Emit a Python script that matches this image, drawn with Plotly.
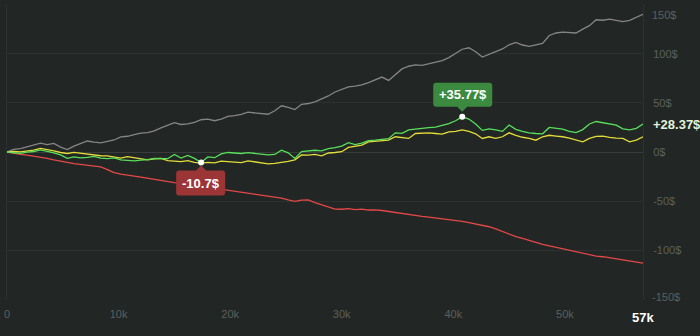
import plotly.graph_objects as go

# Trade count axis (0 .. 57k, one sample every 600 trades)
trades = list(range(0, 57001, 600))

# Cumulative P&L per strategy, in $
pnl_gray = [
    0, 2.7, 3.5, 5.5, 7.5, 9.0, 7.6, 8.8, 5.0, 2.5,
    6.0, 8.5, 11.2, 10.0, 9.3, 10.8, 12.2, 15.3, 16.0, 17.6,
    19.2, 19.8, 21.5, 24.5, 27.0, 29.8, 28.0, 28.6, 30.2, 32.8,
    33.5, 31.8, 33.5, 36.2, 37.0, 38.2, 40.5, 40.0, 39.5, 38.4,
    42.0, 47.0, 45.5, 43.2, 48.5, 49.3, 51.0, 53.6, 57.0, 61.0,
    63.5, 66.2, 67.0, 68.3, 70.5, 73.5, 76.2, 72.8, 79.0, 84.5,
    87.2, 88.5, 88.0, 89.5, 90.8, 93.0, 96.0, 100.5, 104.5, 106.0,
    102.0, 96.5, 99.0, 101.5, 104.8, 109.0, 111.5, 108.8, 107.5, 109.0,
    110.5, 118.5, 121.0, 121.8, 121.2, 121.0, 125.0, 128.5, 134.5, 134.0,
    135.2, 134.0, 132.5, 133.8, 136.5, 140.0,
]
pnl_green = [
    0, -0.5, -1.3, -0.2, 0.5, 2.2, 1.0, -0.8, -3.0, -6.4,
    -5.0, -6.0, -5.5, -4.5, -6.2, -6.8, -6.0, -8.0, -8.5, -9.0,
    -8.2, -7.8, -6.5, -7.0, -6.8, -2.5, -6.2, -3.5, -6.5, -10.7,
    -5.0, -5.8, -2.0, -0.5, -1.0, -1.5, -0.6, -1.3, -2.2, -3.0,
    -2.5, 1.8, -0.8, -6.5, 0.5, 1.5, 1.8, 1.2, 3.5, 4.5,
    6.0, 9.5, 7.5, 9.0, 11.5, 12.0, 13.0, 13.6, 19.5, 19.0,
    22.5, 23.5, 24.0, 24.8, 25.3, 27.0, 28.8, 31.8, 35.77, 33.5,
    28.5, 22.0, 23.5, 22.5, 21.0, 27.5, 23.0, 21.0, 19.5, 18.8,
    18.5, 25.0, 24.0, 23.3, 21.0, 19.8, 22.8, 28.5, 31.0, 30.0,
    28.8, 27.3, 23.5, 22.5, 24.0, 28.37,
]
pnl_yellow = [
    0, 0.5, 0.2, 1.2, 1.8, 3.6, 2.5, 1.2, -0.5, -1.5,
    -0.4, -1.2, -2.0, -3.2, -3.8, -4.0, -5.0, -6.2, -4.8, -6.0,
    -7.2, -8.0, -7.0, -6.4, -8.8, -9.5, -9.8, -8.8, -10.5, -11.4,
    -10.5, -11.0, -9.2, -9.8, -10.2, -10.8, -9.0, -9.8, -10.8, -12.0,
    -11.5, -10.8, -9.5, -8.0, -3.0, -3.2, -2.5, -4.0, -1.0, -0.5,
    0.3, 4.7, 5.5, 7.0, 10.2, 11.0, 11.4, 12.0, 15.5, 14.5,
    13.8, 18.8, 19.2, 19.5, 18.8, 18.2, 20.5, 21.0, 22.5, 21.0,
    18.5, 13.8, 15.5, 13.8, 15.5, 19.5, 17.0, 15.0, 13.8, 12.0,
    15.5, 17.0, 16.2, 15.5, 14.0, 12.0, 10.4, 13.8, 15.8, 16.2,
    14.8, 14.2, 13.8, 10.4, 12.0, 15.5,
]
pnl_red = [
    0, -1.5, -2.5, -3.2, -4.2, -5.4, -6.5, -8.0, -9.6, -10.5,
    -11.8, -12.8, -13.5, -14.2, -15.2, -18.0, -21.0, -22.5, -23.8, -24.6,
    -25.5, -26.8, -27.8, -29.2, -30.2, -31.2, -32.0, -33.0, -33.8, -34.8,
    -35.6, -36.5, -37.5, -38.4, -39.2, -40.5, -41.6, -42.5, -43.5, -44.8,
    -45.8, -46.8, -48.8, -50.2, -49.0, -48.8, -51.5, -53.5, -55.8, -58.0,
    -58.2, -57.6, -58.6, -58.0, -59.0, -58.8, -59.5, -60.5, -62.0, -63.2,
    -63.8, -64.5, -65.5, -66.2, -67.0, -68.2, -69.0, -69.8, -70.6, -71.8,
    -73.2, -74.5, -76.0, -78.2, -81.0, -83.8, -86.0, -87.8, -89.5, -91.8,
    -94.0, -95.5, -97.2, -98.8, -100.2, -101.8, -103.5, -104.8, -105.8, -106.5,
    -107.5, -109.0, -109.8, -110.8, -111.6, -113.0,
]

x_tick_vals = [0, 10000, 20000, 30000, 40000, 50000]
x_tick_text = ["0", "10k", "20k", "30k", "40k", "50k"]
y_tick_vals = [-150, -100, -50, 0, 50, 100, 150]
y_tick_text = ["", "-100$", "-50$", "0$", "50$", "100$", ""]

BG = "#222725"
GRID = "#2d3230"
TICK = "#5b605d"

fig = go.Figure()
for values, color in [
    (pnl_gray, "#858585"),
    (pnl_red, "#e54848"),
    (pnl_yellow, "#e3dc3a"),
    (pnl_green, "#58e05a"),
]:
    fig.add_trace(go.Scatter(
        x=trades, y=values, mode="lines",
        line=dict(color=color, width=1.3),
        hoverinfo="skip", showlegend=False,
    ))

# Extremes of the green series
i_max = pnl_green.index(max(pnl_green))
i_min = pnl_green.index(min(pnl_green))
x_max, y_max = trades[i_max], pnl_green[i_max]
x_min, y_min = trades[i_min], pnl_green[i_min]

fig.add_trace(go.Scatter(
    x=[x_max, x_min], y=[y_max, y_min], mode="markers",
    marker=dict(color="white", size=6),
    hoverinfo="skip", showlegend=False,
))

# Callout bubbles (pixel-sized paths anchored on the data points)
fig.add_shape(
    type="path", xref="x", yref="y",
    xsizemode="pixel", ysizemode="pixel",
    xanchor=x_max, yanchor=y_max,
    path=("M -26,10 L -5,10 L 0,5 L 5,10 L 27,10 Q 30,10 30,13 L 30,31 "
          "Q 30,34 27,34 L -26,34 Q -29,34 -29,31 L -29,13 Q -29,10 -26,10 Z"),
    fillcolor="#3b8a3f", line=dict(width=0), layer="above",
)
fig.add_shape(
    type="path", xref="x", yref="y",
    xsizemode="pixel", ysizemode="pixel",
    xanchor=x_min, yanchor=y_min,
    path=("M -22,-8 L -5,-8 L 0,-3 L 5,-8 L 21,-8 Q 24,-8 24,-11 L 24,-30 "
          "Q 24,-33 21,-33 L -22,-33 Q -25,-33 -25,-30 L -25,-11 Q -25,-8 -22,-8 Z"),
    fillcolor="#9c3535", line=dict(width=0), layer="above",
)

bold = dict(family="Liberation Sans, Arial, sans-serif", size=13, color="white")
fig.add_annotation(x=x_max, y=y_max, text=f"<b>+{y_max:.2f}$</b>",
                   showarrow=False, yshift=22, xshift=0.5, font=bold)
fig.add_annotation(x=x_min, y=y_min, text=f"<b>{y_min:g}$</b>",
                   showarrow=False, yshift=-20.5, xshift=-0.5, font=bold)

# Last value label on the price scale
fig.add_annotation(x=1, xref="paper", xanchor="left", xshift=8,
                   y=pnl_green[-1], text=f"<b>+{pnl_green[-1]:.2f}$</b>",
                   showarrow=False,
                   font=dict(family="Liberation Sans, Arial, sans-serif",
                             size=13, color="#e2f3da"))
# Current trade count on the time scale
fig.add_annotation(x=trades[-1], y=0, yref="paper", yanchor="top", yshift=-8,
                   text=f"<b>{trades[-1] // 1000}k</b>", showarrow=False,
                   font=dict(family="Liberation Sans, Arial, sans-serif",
                             size=13, color="white"))
# Outer price labels kept inside the scale
tick_font = dict(family="Liberation Sans, Arial, sans-serif", size=11, color=TICK)
fig.add_annotation(x=1, xref="paper", xanchor="left", xshift=7, y=150,
                   yshift=-11, text="150$", showarrow=False, font=tick_font)
fig.add_annotation(x=1, xref="paper", xanchor="left", xshift=7, y=-150,
                   yshift=3, text="-150$", showarrow=False, font=tick_font)

fig.update_layout(
    width=700, height=336,
    margin=dict(l=7, r=57, t=4, b=36),
    paper_bgcolor=BG, plot_bgcolor=BG,
    font=tick_font,
    xaxis=dict(range=[0, 57000], tickvals=x_tick_vals, ticktext=x_tick_text,
               showgrid=False, zeroline=False, showline=False,
               ticks="", ticklabelstandoff=6, fixedrange=True),
    yaxis=dict(range=[-150.5, 150.5], side="right",
               tickvals=y_tick_vals, ticktext=y_tick_text,
               showgrid=True, gridcolor=GRID, gridwidth=1,
               zeroline=True, zerolinecolor="#383d3b", zerolinewidth=1,
               showline=True, linecolor=GRID, mirror=True,
               ticks="", ticklabelstandoff=7, fixedrange=True),
)

fig.write_html("out.html", config={"displayModeBar": False})
